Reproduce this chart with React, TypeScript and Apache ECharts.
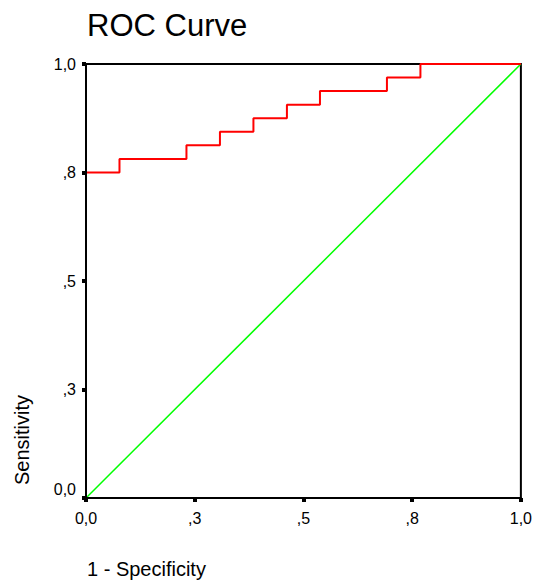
import React, { useEffect, useRef } from "react";
import * as echarts from "echarts";

const tickValues = [0, 0.25, 0.5, 0.75, 1];
const tickLabels = ["0,0", ",3", ",5", ",8", "1,0"];
const rocFpr = [0, 0, 0.077, 0.154, 0.231, 0.308, 0.385, 0.462, 0.538, 0.615, 0.692, 0.769, 0.846, 0.923, 1];
const rocTpr = [0, 0.75, 0.781, 0.781, 0.813, 0.844, 0.875, 0.906, 0.938, 0.938, 0.969, 1, 1, 1, 1];
const refX = [0, 1];
const refY = [0, 1];

const FONT = "'Liberation Sans', Arial, Helvetica, sans-serif";

function labelFor(v: number): string {
  const i = tickValues.findIndex((t) => Math.abs(t - v) < 1e-9);
  return i >= 0 ? tickLabels[i] : "";
}

export default function App() {
  const ref = useRef<HTMLDivElement>(null);
  useEffect(() => {
    document.body.style.margin = "0";
    if (!ref.current) return;
    const chart = echarts.init(ref.current, null, { renderer: "svg" });
    chart.setOption({
      animation: false,
      backgroundColor: "#ffffff",
      grid: {
        left: 86,
        right: 13,
        top: 64,
        bottom: 83,
        show: true,
        borderColor: "#000",
        borderWidth: 2,
        backgroundColor: "transparent",
      },
      xAxis: {
        type: "value",
        min: 0,
        max: 1,
        interval: 0.25,
        z: 5,
        splitLine: { show: false },
        axisLine: { show: true, onZero: false, lineStyle: { color: "#000", width: 2 } },
        axisTick: { show: true, length: 4, lineStyle: { color: "#000", width: 4 } },
        axisLabel: {
          margin: 12,
          color: "#000",
          fontFamily: FONT,
          fontSize: 16,
          formatter: (v: number) => labelFor(v),
        },
      },
      yAxis: {
        type: "value",
        min: 0,
        max: 1,
        interval: 0.25,
        z: 5,
        splitLine: { show: false },
        axisLine: { show: true, onZero: false, lineStyle: { color: "#000", width: 2 } },
        axisTick: { show: true, length: 4, lineStyle: { color: "#000", width: 4 } },
        axisLabel: {
          margin: 10,
          color: "#000",
          fontFamily: FONT,
          fontSize: 16,
          formatter: (v: number) => (v === 0 ? "{low|" + labelFor(v) + "}" : labelFor(v)),
          rich: {
            low: {
              fontFamily: FONT,
              fontSize: 16,
              color: "#000",
              padding: [0, 0, 18, 0],
            },
          },
        },
      },
      graphic: [
        {
          type: "text",
          left: 87,
          top: 10,
          style: {
            text: "ROC Curve",
            fontFamily: FONT,
            fontSize: 31,
            fill: "#000",
          },
        },
        {
          type: "text",
          x: 22,
          y: 440,
          rotation: Math.PI / 2,
          style: {
            text: "Sensitivity",
            fontFamily: FONT,
            fontSize: 20,
            fill: "#000",
            align: "center",
            verticalAlign: "middle",
          },
        },
        {
          type: "text",
          x: 87,
          y: 569,
          style: {
            text: "1 - Specificity",
            fontFamily: FONT,
            fontSize: 20,
            fill: "#000",
            align: "left",
            verticalAlign: "middle",
          },
        },
      ],
      series: [
        {
          type: "line",
          data: refX.map((x, i) => [x, refY[i]]),
          symbol: "none",
          lineStyle: { color: "#00ff00", width: 1.5 },
          silent: true,
          z: 2,
        },
        {
          type: "line",
          step: "end",
          data: rocFpr.map((x, i) => [x, rocTpr[i]]),
          symbol: "none",
          lineStyle: { color: "#ff0000", width: 2 },
          silent: true,
          z: 3,
        },
      ],
    });
    return () => chart.dispose();
  }, []);
  return <div ref={ref} style={{ width: 535, height: 581 }} />;
}
